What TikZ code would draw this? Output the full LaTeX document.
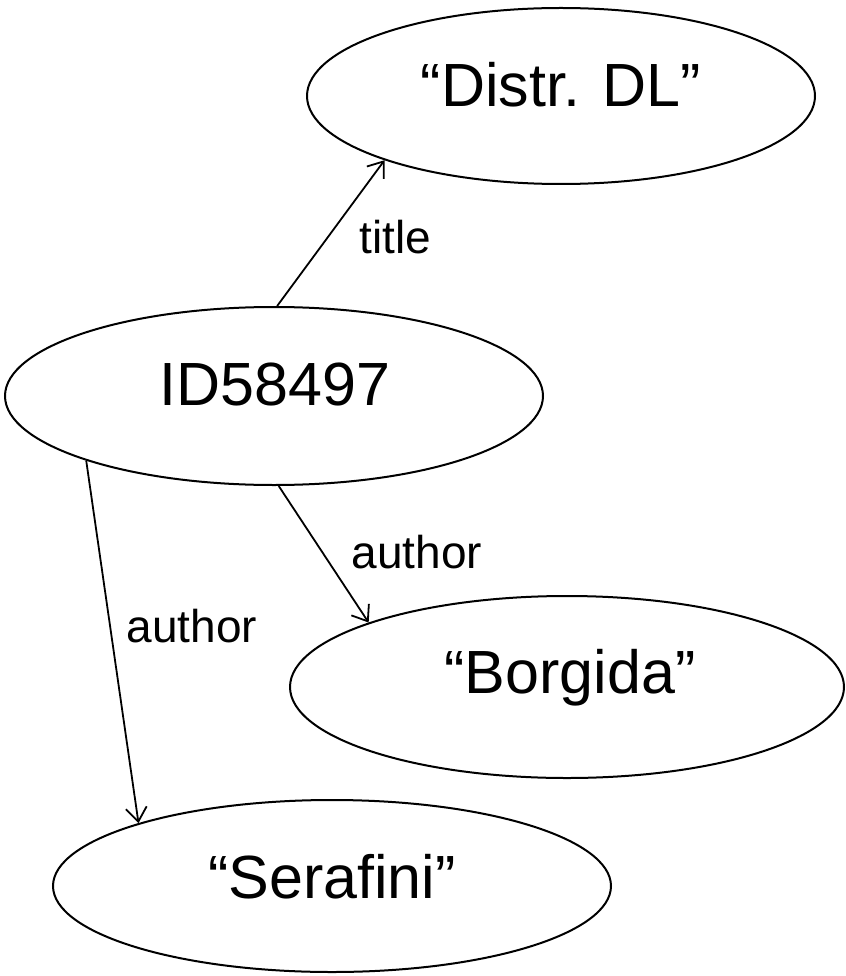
\documentclass[tikz,border=0pt]{standalone}
\usepackage{fontspec}
\setmainfont{Liberation Sans}
\usetikzlibrary{shapes.geometric,arrows.meta}

\tikzset{
  blob/.style={ellipse, draw, line width=2pt, inner sep=0pt},
  lit/.style={anchor=base, inner sep=0pt, font=\fontsize{61}{70}\selectfont},
  rel/.style={line width=1.8pt, -{Straight Barb[length=14pt,width=21pt,line width=1.8pt]}},
  tag/.style={anchor=base, inner sep=0pt, font=\fontsize{46}{54}\selectfont}
}

\begin{document}
\begin{tikzpicture}[x=1pt, y=-1pt]
  \useasboundingbox (0,0) rectangle (845,976);

  % resources and literals
  \node[blob, minimum width=508pt, minimum height=176pt] (dl)  at (561,96)  {};
  \node[blob, minimum width=538pt, minimum height=178pt] (id)  at (274,396) {};
  \node[blob, minimum width=554pt, minimum height=182pt] (bor) at (567,687) {};
  \node[blob, minimum width=558pt, minimum height=172pt] (ser) at (332,886) {};

  \node[lit] (dltxt)  at (561,107) {“Distr. DL”};
  \node[lit] (idtxt)  at (275,405) {ID58497};
  \node[lit] (bortxt) at (570,693) {“Borgida”};
  \node[lit] (sertxt) at (332,898) {“Serafini”};

  % properties
  \draw[rel] (id.88)  -- (dl.200);
  \draw[rel] (id.273) -- (bor.162);
  \draw[rel] (id.199) -- (ser.162);

  \node[tag] (ltitle) at (395,253) {title};
  \node[tag] (lauth1) at (417,568) {author};
  \node[tag] (lauth2) at (192,642) {author};
\end{tikzpicture}
\end{document}
